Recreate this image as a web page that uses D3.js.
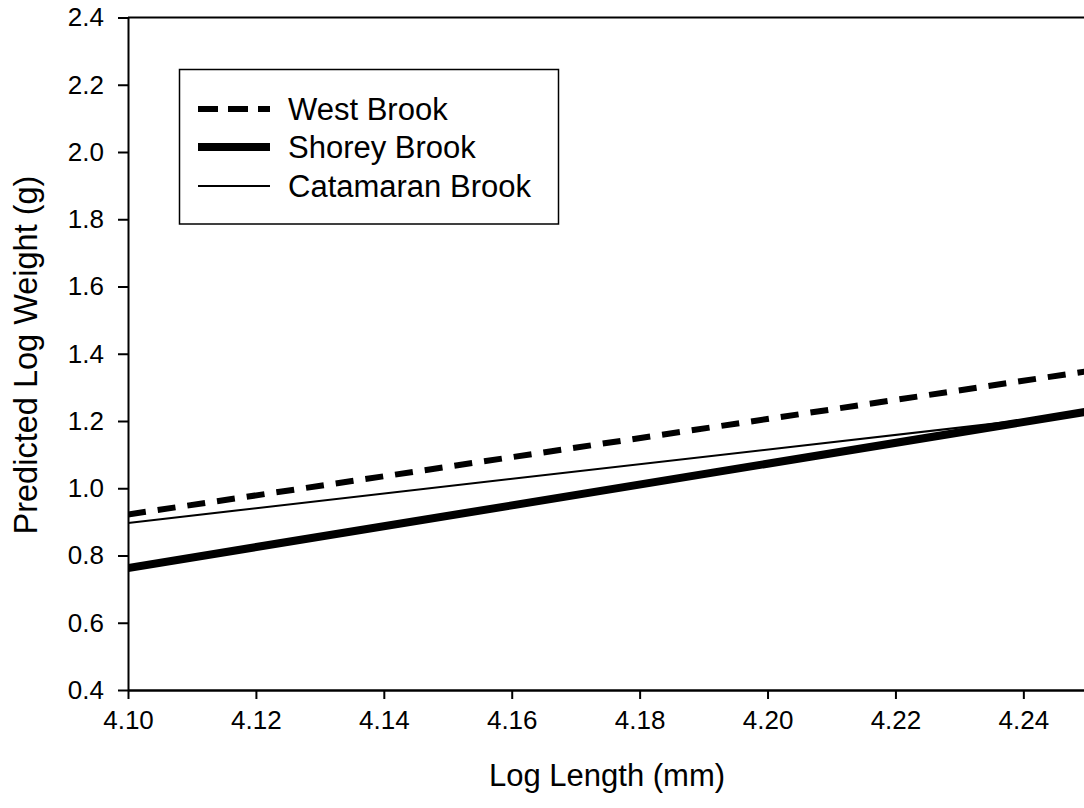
<!DOCTYPE html>
<html>
<head>
<meta charset="utf-8">
<script src="https://cdn.jsdelivr.net/npm/d3@7"></script>
<style>
  html, body { margin: 0; padding: 0; background: #fff; }
  svg { display: block; font-family: Arial, "Liberation Sans", sans-serif; }
</style>
</head>
<body>
<svg id="chart" width="1084" height="808"></svg>
<script>
// Data
const seriesNames = ["West Brook", "Shorey Brook", "Catamaran Brook"];
const xValues = [4.10, 4.25];
const westBrook = [0.922, 1.348];
const shoreyBrook = [0.763, 1.228];
const catamaranBrook = [0.897, 1.224];
const xTicks = [4.10, 4.12, 4.14, 4.16, 4.18, 4.20, 4.22, 4.24];
const yTicks = [0.4, 0.6, 0.8, 1.0, 1.2, 1.4, 1.6, 1.8, 2.0, 2.2, 2.4];

const series = [
  { name: seriesNames[0], values: westBrook, width: 6, dash: "18,12", legendDash: "20,10" },
  { name: seriesNames[1], values: shoreyBrook, width: 8, dash: null, legendDash: null },
  { name: seriesNames[2], values: catamaranBrook, width: 2, dash: null, legendDash: null }
];

const svg = d3.select("#chart");
const pLeft = 128, pRight = 1087.3, pTop = 17.5, pBottom = 690;

const x = d3.scaleLinear().domain([4.10, 4.25]).range([pLeft, pRight]);
const y = d3.scaleLinear().domain([0.4, 2.4]).range([pBottom, pTop]);

svg.append("defs").append("clipPath").attr("id", "clip")
  .append("rect").attr("x", pLeft).attr("y", pTop).attr("width", pRight - pLeft).attr("height", pBottom - pTop);

// Lines
const line = d3.line().x(d => x(d[0])).y(d => y(d[1]));
const g = svg.append("g").attr("clip-path", "url(#clip)");
series.forEach(s => {
  g.append("path")
    .datum(xValues.map((xv, i) => [xv, s.values[i]]))
    .attr("d", line)
    .attr("fill", "none")
    .attr("stroke", "#000")
    .attr("stroke-width", s.width)
    .attr("stroke-dasharray", s.dash);
});

// Frame top line
svg.append("line").attr("x1", pLeft).attr("x2", 1084).attr("y1", pTop).attr("y2", pTop)
  .attr("stroke", "#000").attr("stroke-width", 2);

// X axis
const xAxis = svg.append("g").attr("transform", `translate(0,${pBottom})`)
  .call(d3.axisBottom(x).tickValues(xTicks).tickFormat(d3.format(".2f")).tickSize(9).tickPadding(12).tickSizeOuter(0));
xAxis.select(".domain").attr("stroke-width", 2.5);
xAxis.selectAll(".tick line").attr("stroke-width", 2);
xAxis.selectAll("text").attr("font-size", 26).attr("fill", "#000").attr("font-family", "Arial, 'Liberation Sans', sans-serif");

// Y axis
const yAxis = svg.append("g").attr("transform", `translate(${pLeft},0)`)
  .call(d3.axisLeft(y).tickValues(yTicks).tickFormat(d3.format(".1f")).tickSize(10).tickPadding(14).tickSizeOuter(0));
yAxis.select(".domain").attr("stroke-width", 2);
yAxis.selectAll(".tick line").attr("stroke-width", 2);
yAxis.selectAll("text").attr("font-size", 26).attr("fill", "#000").attr("font-family", "Arial, 'Liberation Sans', sans-serif");

// Axis titles
svg.append("text").attr("x", 607).attr("y", 786).attr("text-anchor", "middle")
  .attr("font-size", 31).attr("fill", "#000").text("Log Length (mm)");
svg.append("text").attr("transform", `translate(37,355) rotate(-90)`)
  .attr("text-anchor", "middle").attr("font-size", 32.5).attr("fill", "#000").text("Predicted Log Weight (g)");

// Legend
const lg = svg.append("g");
lg.append("rect").attr("x", 179.5).attr("y", 69.5).attr("width", 379).attr("height", 154.5)
  .attr("fill", "#fff").attr("stroke", "#000").attr("stroke-width", 1.5);
const legendY = [109, 147, 186];
series.forEach((s, i) => {
  lg.append("line").attr("x1", 198).attr("x2", 270).attr("y1", legendY[i]).attr("y2", legendY[i])
    .attr("stroke", "#000").attr("stroke-width", s.width).attr("stroke-dasharray", s.legendDash);
  lg.append("text").attr("x", 288).attr("y", legendY[i] + 11).attr("font-size", 31).attr("fill", "#000").text(s.name);
});
</script>
</body>
</html>
